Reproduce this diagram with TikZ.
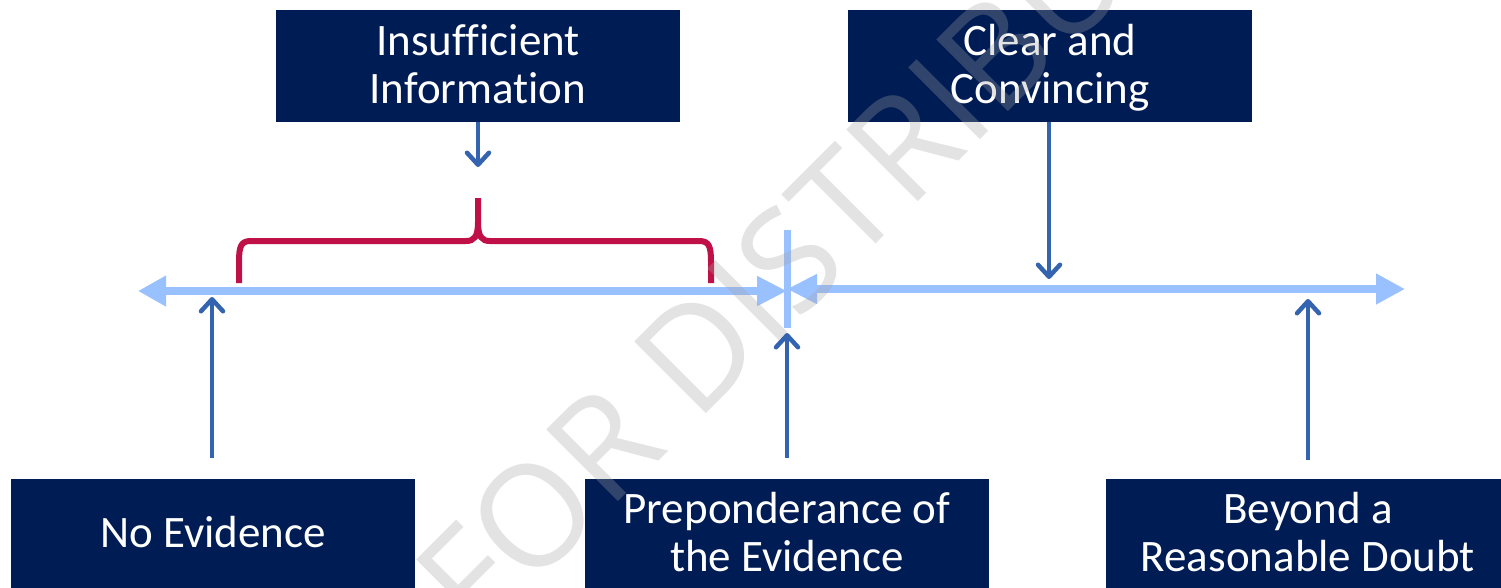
\documentclass[tikz,border=0pt]{standalone}
\usepackage{fontspec}
\setmainfont{Carlito}[Ligatures={NoCommon}]
\newfontfamily\wmfont{Open Sans}
\usetikzlibrary{arrows.meta,calc}
\definecolor{navy}{RGB}{0,28,84}
\definecolor{axisblue}{RGB}{154,193,255}
\definecolor{ptrblue}{RGB}{52,99,176}
\definecolor{bracered}{RGB}{192,16,72}
\definecolor{wmgray}{RGB}{163,163,163}
\tikzset{
  box/.style={rectangle, fill=navy, inner sep=0pt, minimum width=404pt, minimum height=112pt},
  boxtext/.style={text=white, inner sep=0pt, align=center, text depth=0pt,
    font=\fontsize{45}{48}\selectfont},
  axisline/.style={draw=axisblue, line width=8.5pt},
  ticklinestyle/.style={draw=axisblue, line width=7pt},
  ptr/.style={draw=ptrblue, line width=4.5pt,
    -{Straight Barb[length=12pt,width=22pt,line join=round,line cap=round]}},
  bracestyle/.style={draw=bracered, line width=6pt},
  wm/.style={text=wmgray, text opacity=0.3, inner sep=0pt, font=\wmfont\fontsize{142}{142}\selectfont}
}
\begin{document}
\begin{tikzpicture}[x=1pt,y=-1pt]
\path[use as bounding box, clip] (0,0) rectangle (1501,587);
\fill[white] (0,0) rectangle (1501,587);

% boxes
\node[box] (insuf) at (478,66) {};
\node[box] (clear) at (1050,66) {};
\node[box] (noev) at (213,535) {};
\node[box] (prep) at (787,535) {};
\node[box] (beyond) at (1308,535) {};
\node[boxtext] (insuftxt) at (478,64) {Insufficient\\Information};
\node[boxtext] (cleartxt) at (1050,64) {Clear and\\Convincing};
\node[boxtext] (noevtxt) at (213,532) {No Evidence};
\node[boxtext] (preptxt) at (787,532) {Preponderance of\\the Evidence};
\node[boxtext] (beyondtxt) at (1308,532) {Beyond a\\Reasonable Doubt};

% axis
\coordinate (Lend) at (138,291);
\coordinate (midL) at (787,291);
\coordinate (midR) at (787,289);
\coordinate (Rend) at (1405,289);
\coordinate (tickT) at (787,230);
\coordinate (tickB) at (787,328);
\draw[axisline, {Triangle[length=28pt,width=29pt]}-{Triangle[length=30pt,width=28pt]}] (Lend) -- (midL);
\draw[axisline, {Triangle[length=30pt,width=28pt]}-{Triangle[length=29pt,width=29pt]}] (midR) -- (Rend);
\draw[ticklinestyle] (tickT) -- (tickB);

% brace
\draw[bracestyle] (239,283) -- (239,262) .. controls (239,246) and (241,241) .. (251,241)
  -- (466,241) .. controls (474,241) and (478,237) .. (478,222) -- (478,198);
\draw[bracestyle] (711,283) -- (711,262) .. controls (711,246) and (709,241) .. (699,241)
  -- (490,241) .. controls (482,241) and (478,237) .. (478,222);

% pointers
\coordinate (insufT) at (478,167);
\coordinate (clearT) at (1049,279);
\coordinate (noevT) at (212,297);
\coordinate (prepT) at (787,333);
\coordinate (beyT) at (1308,299);
\draw[ptr] (insufT |- insuf.south) -- (insufT);
\draw[ptr] (clearT |- clear.south) -- (clearT);
\draw[ptr, shorten <=21pt] (noevT |- noev.north) -- (noevT);
\draw[ptr, shorten <=21pt] (prepT |- prep.north) -- (prepT);
\draw[ptr, shorten <=19pt] (beyT |- beyond.north) -- (beyT);

% watermark
\node[wm, rotate=45, anchor=base west] (wmark) at (478,642) {FOR DISTRIBUTION};
\end{tikzpicture}
\end{document}
